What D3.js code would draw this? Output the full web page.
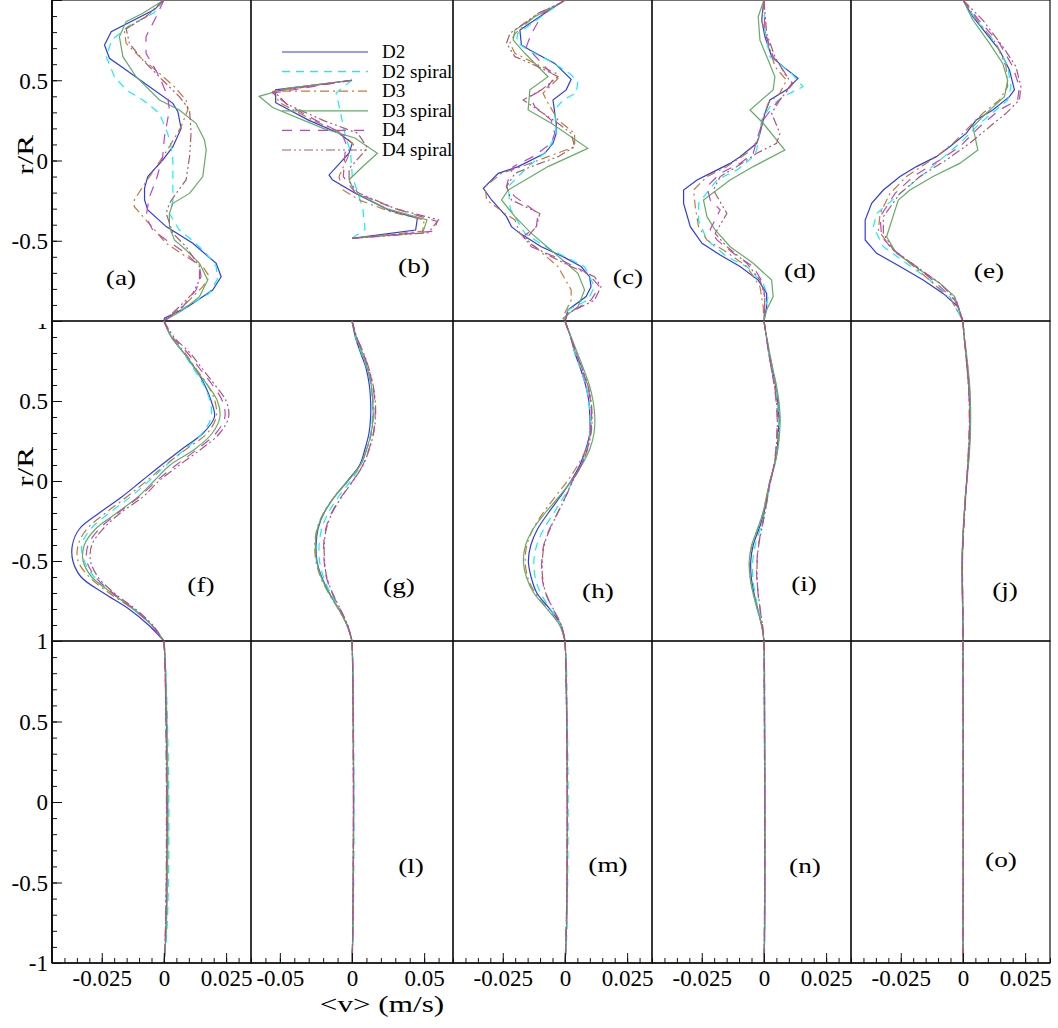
<!DOCTYPE html>
<html lang="en">
<head>
<meta charset="utf-8">
<script src="https://cdn.jsdelivr.net/npm/d3@7"></script>
<style>
  body { margin: 0; background: #fff; }
  text { fill: #000; }
  .frame { fill: none; stroke: #111; stroke-width: 1.2px; }
  .tick line { stroke: #111; stroke-width: 1px; }
  .curve { fill: none; stroke-width: 1.2px; }
</style>
</head>
<body>
<svg id="fig" width="1058" height="1028"></svg>
<script>
var seriesNames = ["D2", "D2 spiral", "D3", "D3 spiral", "D4", "D4 spiral"];
var seriesColors = ["#2f3ce6", "#10f0f8", "#c47a36", "#62ad62", "#c044c4", "#ac5a6e"];
var seriesDash = [null, "8,6", "9,4,2,4", null, "10,8", "9,3,2,3,2,3"];

var xDomainNarrow = [-0.045, 0.035];
var xDomainWide = [-0.07, 0.07];
var xTicksNarrow = [-0.025, 0, 0.025];
var xTicksWide = [-0.05, 0, 0.05];
var xTickLabelsNarrow = ["-0.025", "0", "0.025"];
var xTickLabelsWide = ["-0.05", "0", "0.05"];
var yTicks = [1, 0.5, 0, -0.5, -1];
var yTickLabelsRow = [[0.5, 0, -0.5], [1, 0.5, 0, -0.5], [1, 0.5, 0, -0.5, -1]];

// r/R grids used by the smooth rows
var rGrid = [1, 0.9, 0.8, 0.7, 0.6, 0.5, 0.4, 0.3, 0.2, 0.1, 0, -0.1, -0.2, -0.3, -0.4, -0.5, -0.6, -0.7, -0.8, -0.9, -1];
var rWall = [1, 0.95, 0.8, 0.5, 0, -0.5, -0.8, -0.95, -1];

// row 1: [r/R, <v>] pairs
var a_D2 = [[1,0],[0.94,-0.0038],[0.803,-0.0212],[0.72,-0.0239],[0.637,-0.0219],[0.564,-0.0152],[0.46,-0.0058],[0.356,0.0036],[0.304,0.0056],[0.2,0.0069],[0.086,0.0036],[0.003,-0.0005],[-0.1,-0.0065],[-0.173,-0.0078],[-0.246,-0.0078],[-0.308,-0.0065],[-0.412,0.0009],[-0.516,0.0116],[-0.641,0.021],[-0.724,0.023],[-0.807,0.0196],[-0.911,0.0096],[-0.983,0.0002],[-1,0]];
var a_D2s = [[1,0],[0.92,-0.004],[0.84,-0.014],[0.75,-0.021],[0.647,-0.0232],[0.522,-0.0199],[0.44,-0.0152],[0.377,-0.0085],[0.294,-0.0018],[0.169,0.0015],[0.086,0.0029],[0,0.0036],[-0.25,0.0036],[-0.33,0.0022],[-0.433,0.0062],[-0.5,0.0116],[-0.58,0.017],[-0.66,0.021],[-0.74,0.0215],[-0.83,0.018],[-0.91,0.0089],[-1,0]];
var a_D3 = [[1,0],[0.896,-0.0072],[0.813,-0.0159],[0.73,-0.0152],[0.647,-0.0098],[0.543,-0.0018],[0.46,0.0042],[0.377,0.0089],[0.315,0.0096],[0.211,0.0069],[0.086,0.0022],[-0.038,-0.0031],[-0.163,-0.0085],[-0.246,-0.0119],[-0.288,-0.0119],[-0.371,-0.0072],[-0.516,0.0009],[-0.599,0.0089],[-0.661,0.0156],[-0.724,0.0183],[-0.786,0.0156],[-0.89,0.0089],[-1,0]];
var a_D3s = [[1,0],[0.917,-0.0085],[0.865,-0.0152],[0.772,-0.0179],[0.647,-0.0165],[0.522,-0.0112],[0.377,-0.0018],[0.315,0.0062],[0.232,0.0129],[0.128,0.0163],[0.065,0.017],[-0.1,0.0156],[-0.205,0.0103],[-0.267,0.0036],[-0.329,0.0022],[-0.412,0.0022],[-0.495,0.0042],[-0.558,0.0089],[-0.641,0.0143],[-0.745,0.0176],[-0.848,0.0143],[-0.931,0.0076],[-1,0]];
var a_D4 = [[1,0],[0.896,-0.0031],[0.772,-0.0072],[0.668,-0.0072],[0.522,-0.0018],[0.398,0.0015],[0.315,0.0022],[0.148,0.0002],[0.024,-0.0005],[-0.121,-0.0031],[-0.225,-0.0058],[-0.35,-0.0072],[-0.433,-0.0045],[-0.495,0.0009],[-0.578,0.0089],[-0.661,0.0143],[-0.724,0.0149],[-0.807,0.0129],[-0.911,0.0076],[-1,0]];
var a_D4s = [[1,0],[0.896,-0.0072],[0.823,-0.0152],[0.73,-0.0139],[0.626,-0.0085],[0.5,-0.0005],[0.398,0.0062],[0.315,0.0103],[0.169,0.0109],[0.024,0.0103],[-0.121,0.0089],[-0.205,0.0049],[-0.267,0.0022],[-0.329,0.0009],[-0.454,0.0036],[-0.537,0.0089],[-0.661,0.0143],[-0.745,0.0143],[-0.828,0.0116],[-0.911,0.0062],[-1,0]];

var b_D2 = [[0.5,0],[0.44,-0.0529],[0.36,-0.0529],[0.25,-0.0298],[0.17,-0.009],[0.107,0.0002],[0.045,-0.0021],[-0.09,-0.0159],[-0.12,-0.0136],[-0.205,0.0025],[-0.31,0.0256],[-0.36,0.0453],[-0.433,0.0441],[-0.485,0]];
var b_D2s = [[0.5,0],[0.45,-0.0072],[0.42,-0.011],[0.3,-0.008],[0.17,-0.005],[0.05,-0.001],[-0.1,0.0002],[-0.2,0.004],[-0.3,0.0075],[-0.38,0.0085],[-0.43,0.009],[-0.485,0]];
var b_D3 = [[0.5,0],[0.43,-0.055],[0.36,-0.05],[0.25,-0.027],[0.17,-0.007],[0.1,0.001],[0.04,-0.002],[-0.1,-0.009],[-0.18,-0.007],[-0.25,0.006],[-0.32,0.027],[-0.37,0.05],[-0.44,0.049],[-0.485,0]];
var b_D3s = [[0.5,0],[0.45,-0.045],[0.4,-0.0644],[0.33,-0.055],[0.2,-0.02],[0.14,0.002],[0.045,0.0176],[-0.05,0.006],[-0.12,-0.002],[-0.2,0.002],[-0.3,0.024],[-0.37,0.052],[-0.45,0.049],[-0.485,0]];
var b_D4 = [[0.5,0],[0.42,-0.055],[0.35,-0.045],[0.25,-0.025],[0.17,-0.007],[0.1,-0.004],[0.03,-0.005],[-0.1,-0.006],[-0.2,0.002],[-0.3,0.03],[-0.38,0.059],[-0.44,0.057],[-0.485,0]];
var b_D4s = [[0.5,0],[0.43,-0.054],[0.35,-0.045],[0.25,-0.02],[0.17,0.004],[0.08,0.0106],[0.04,0.007],[-0.05,-0.002],[-0.13,-0.002],[-0.2,0.004],[-0.3,0.03],[-0.37,0.06],[-0.45,0.053],[-0.485,0]];

var c_D2 = [[1,0],[0.98,-0.002],[0.917,-0.0081],[0.813,-0.0181],[0.72,-0.0175],[0.688,-0.0141],[0.605,-0.0041],[0.506,0.0025],[0.44,0.0005],[0.377,-0.0048],[0.23,-0.0035],[0.169,-0.0035],[0.107,-0.0048],[0.045,-0.0081],[-0.038,-0.0188],[-0.08,-0.0268],[-0.173,-0.0328],[-0.246,-0.0295],[-0.35,-0.0235],[-0.412,-0.0215],[-0.454,-0.0181],[-0.537,-0.0095],[-0.599,-0.0008],[-0.661,0.0065],[-0.724,0.0099],[-0.786,0.0105],[-0.848,0.0085],[-0.931,0.0012],[-1,0]];
var c_D2s = [[1,0],[0.98,-0.002],[0.79,-0.019],[0.74,-0.0195],[0.69,-0.015],[0.616,-0.0055],[0.543,0.0019],[0.49,0.0052],[0.42,0.0045],[0.377,-0.0008],[0.315,-0.0041],[0.169,-0.0035],[0.065,-0.0068],[-0.038,-0.0148],[-0.12,-0.0201],[-0.163,-0.0228],[-0.3,-0.022],[-0.454,-0.0161],[-0.547,-0.0068],[-0.661,0.0079],[-0.786,0.0119],[-0.87,0.0092],[-0.931,0.0012],[-1,0]];
var c_D3 = [[1,0],[0.98,-0.002],[0.917,-0.0108],[0.79,-0.0201],[0.73,-0.0221],[0.668,-0.0201],[0.605,-0.0121],[0.543,-0.0035],[0.51,-0.0028],[0.42,-0.0088],[0.377,-0.0075],[0.252,-0.0028],[0.169,0.0039],[0.086,0.0039],[0.024,-0.0068],[-0.038,-0.0175],[-0.08,-0.0255],[-0.163,-0.0321],[-0.246,-0.0315],[-0.33,-0.0241],[-0.37,-0.0201],[-0.454,-0.0181],[-0.537,-0.0121],[-0.661,-0.0028],[-0.807,0.0025],[-0.87,0.0025],[-0.952,-0.0001],[-1,0]];
var c_D3s = [[1,0],[0.98,-0.002],[0.896,-0.0121],[0.813,-0.0201],[0.75,-0.0208],[0.668,-0.0161],[0.522,-0.0068],[0.44,-0.0141],[0.315,-0.0148],[0.232,-0.0055],[0.076,0.0092],[-0.038,-0.0068],[-0.184,-0.0228],[-0.246,-0.0255],[-0.35,-0.0201],[-0.454,-0.0135],[-0.578,-0.0041],[-0.703,0.0052],[-0.807,0.0079],[-0.911,0.0052],[-0.983,-0.0008],[-1,0]];
var c_D4 = [[1,0],[0.98,-0.002],[0.917,-0.0088],[0.79,-0.0135],[0.71,-0.0155],[0.564,-0.0068],[0.522,-0.0041],[0.46,-0.0068],[0.398,-0.0141],[0.335,-0.0121],[0.252,-0.0055],[0.169,-0.0041],[0.107,-0.0055],[0.024,-0.0128],[-0.038,-0.0208],[-0.121,-0.0228],[-0.163,-0.0235],[-0.225,-0.0201],[-0.33,-0.0108],[-0.412,-0.0115],[-0.475,-0.0168],[-0.537,-0.0135],[-0.6,-0.0041],[-0.703,0.0092],[-0.786,0.0139],[-0.87,0.0105],[-0.952,0.0012],[-1,0]];
var c_D4s = [[1,0],[0.98,-0.002],[0.917,-0.0108],[0.792,-0.0221],[0.73,-0.0235],[0.647,-0.0201],[0.585,-0.0108],[0.522,-0.0028],[0.44,-0.0095],[0.377,-0.0168],[0.315,-0.0108],[0.232,-0.0028],[0.169,0.0025],[0.086,0.0039],[0.024,-0.0028],[-0.038,-0.0135],[-0.08,-0.0201],[-0.163,-0.0235],[-0.246,-0.0215],[-0.33,-0.0101],[-0.412,-0.0115],[-0.495,-0.0161],[-0.578,-0.0081],[-0.661,0.0025],[-0.724,0.0119],[-0.786,0.0145],[-0.87,0.0119],[-0.952,0.0012],[-1,0]];

var d_D2 = [[1,0],[0.875,-0.0009],[0.772,0.0004],[0.647,0.0031],[0.585,0.0077],[0.512,0.0137],[0.44,0.0091],[0.377,0.0024],[0.294,0.0004],[0.169,-0.0016],[0.107,-0.0029],[0.024,-0.0096],[-0.018,-0.0136],[-0.08,-0.0216],[-0.121,-0.0269],[-0.184,-0.0323],[-0.267,-0.0323],[-0.412,-0.0296],[-0.516,-0.0249],[-0.589,-0.0176],[-0.661,-0.0096],[-0.745,-0.0023],[-0.828,0.0011],[-0.911,0.0011],[-1,0]];
var d_D2s = [[1,0],[0.8,0.0004],[0.647,0.0024],[0.543,0.0111],[0.46,0.0157],[0.398,0.0077],[0.335,0.0024],[0.252,-0.0009],[0.065,-0.0029],[0.024,-0.0043],[-0.06,-0.0109],[-0.121,-0.0189],[-0.267,-0.0263],[-0.371,-0.0263],[-0.495,-0.0229],[-0.6,-0.0149],[-0.661,-0.0069],[-0.766,-0.0003],[-0.848,0.0017],[-0.93,0.0004],[-1,0]];
var d_D3 = [[1,0],[0.875,-0.0009],[0.77,0.0011],[0.585,0.0044],[0.5,0.0091],[0.42,0.0064],[0.356,0.0017],[0.273,-0.0003],[0.128,-0.0023],[0.045,-0.0069],[-0.038,-0.0149],[-0.1,-0.0229],[-0.184,-0.0283],[-0.288,-0.0276],[-0.412,-0.0263],[-0.495,-0.0229],[-0.578,-0.0143],[-0.661,-0.0069],[-0.786,-0.0016],[-0.911,-0.0003],[-1,0]];
var d_D3s = [[1,0],[0.896,-0.0023],[0.75,-0.0016],[0.626,0.0017],[0.522,0.0044],[0.44,0.0037],[0.315,-0.0056],[0.232,-0.0003],[0.065,0.0084],[-0.038,-0.0043],[-0.121,-0.0136],[-0.246,-0.0243],[-0.35,-0.0229],[-0.433,-0.0196],[-0.537,-0.0136],[-0.64,-0.0043],[-0.745,0.0031],[-0.848,0.0037],[-0.931,0.0011],[-1,0]];
var d_D4 = [[1,0],[0.8,0.0004],[0.647,0.0037],[0.564,0.0077],[0.48,0.0111],[0.4,0.0077],[0.335,0.0037],[0.252,-0.0003],[0.128,-0.0029],[0.045,-0.0043],[-0.018,-0.0096],[-0.08,-0.0176],[-0.163,-0.0229],[-0.246,-0.0216],[-0.308,-0.0176],[-0.43,-0.0216],[-0.495,-0.0189],[-0.578,-0.0123],[-0.661,-0.0043],[-0.766,-0.0003],[-0.87,0.0004],[-1,0]];
var d_D4s = [[1,0],[0.79,0.0011],[0.647,0.0044],[0.522,0.0091],[0.48,0.0117],[0.377,0.0064],[0.294,0.0031],[0.169,0.0064],[0.107,0.0051],[0.045,-0.0029],[-0.038,-0.0109],[-0.1,-0.0176],[-0.184,-0.0203],[-0.33,-0.0149],[-0.454,-0.0196],[-0.537,-0.0149],[-0.64,-0.0069],[-0.745,-0.0016],[-0.848,0.0004],[-1,0]];

var e_D2 = [[1,0],[0.896,0.004],[0.792,0.0093],[0.688,0.0147],[0.564,0.0187],[0.44,0.0207],[0.398,0.0187],[0.315,0.012],[0.252,0.0053],[0.169,0.0013],[0.086,-0.0053],[0.024,-0.0107],[-0.038,-0.0187],[-0.1,-0.0253],[-0.184,-0.032],[-0.267,-0.0367],[-0.371,-0.0393],[-0.495,-0.0393],[-0.578,-0.0347],[-0.661,-0.0253],[-0.745,-0.016],[-0.828,-0.008],[-0.911,-0.002],[-1,0]];
var e_D2s = [[1,0],[0.875,0.0053],[0.73,0.0133],[0.585,0.018],[0.46,0.0193],[0.377,0.018],[0.315,0.0133],[0.23,0.0067],[0.107,-0.0013],[-0.018,-0.0107],[-0.121,-0.0187],[-0.225,-0.0267],[-0.33,-0.0347],[-0.412,-0.036],[-0.537,-0.032],[-0.64,-0.0227],[-0.745,-0.0133],[-0.848,-0.0053],[-1,0]];
var e_D3 = [[1,0],[0.855,0.0067],[0.73,0.0133],[0.585,0.0173],[0.46,0.018],[0.377,0.0147],[0.294,0.008],[0.19,0.0013],[0.107,-0.004],[0.024,-0.0107],[-0.1,-0.0227],[-0.205,-0.0293],[-0.33,-0.0333],[-0.433,-0.034],[-0.537,-0.0293],[-0.64,-0.0213],[-0.765,-0.012],[-0.87,-0.0047],[-1,0]];
var e_D3s = [[1,0],[0.875,0.004],[0.73,0.0107],[0.605,0.016],[0.5,0.018],[0.398,0.0167],[0.294,0.0093],[0.21,0.004],[0.065,0.006],[-0.018,-0.0013],[-0.1,-0.012],[-0.184,-0.0213],[-0.246,-0.026],[-0.475,-0.0307],[-0.578,-0.0267],[-0.682,-0.0173],[-0.765,-0.0093],[-0.848,-0.0033],[-1,0]];
var e_D4 = [[1,0],[0.875,0.0064],[0.73,0.0147],[0.585,0.02],[0.46,0.0227],[0.377,0.022],[0.315,0.0147],[0.21,0.0067],[0.086,-0.0013],[0.003,-0.0093],[-0.1,-0.02],[-0.205,-0.0273],[-0.35,-0.0333],[-0.475,-0.0327],[-0.558,-0.028],[-0.661,-0.0187],[-0.765,-0.0107],[-0.87,-0.0033],[-1,0]];
var e_D4s = [[1,0],[0.875,0.008],[0.71,0.016],[0.585,0.0213],[0.46,0.0233],[0.377,0.0227],[0.294,0.0173],[0.21,0.0107],[0.107,0.0027],[0.003,-0.0067],[-0.1,-0.0173],[-0.205,-0.0253],[-0.35,-0.032],[-0.454,-0.032],[-0.558,-0.028],[-0.661,-0.0187],[-0.765,-0.0093],[-0.87,-0.0027],[-1,0]];

// row 2: <v> on rGrid
var f_D2 = [0,0.003,0.008,0.0127,0.0164,0.019,0.0203,0.0158,0.0073,-0.001,-0.009,-0.017,-0.026,-0.034,-0.0368,-0.0366,-0.0333,-0.0243,-0.0141,-0.0062,0];
var f_D2s = [0,0.003,0.0078,0.012,0.016,0.0185,0.019,0.0155,0.0085,0.001,-0.006,-0.0135,-0.022,-0.0295,-0.033,-0.032,-0.028,-0.021,-0.012,-0.005,0];
var f_D3 = [0,0.003,0.0085,0.013,0.0175,0.0205,0.021,0.0175,0.009,0.0005,-0.007,-0.015,-0.0235,-0.031,-0.0345,-0.0345,-0.03,-0.022,-0.0125,-0.005,0];
var f_D3s = [0,0.003,0.008,0.0125,0.0175,0.0215,0.0225,0.0195,0.0125,0.0025,-0.004,-0.0105,-0.019,-0.0275,-0.032,-0.0325,-0.029,-0.021,-0.0125,-0.005,0];
var f_D4 = [0,0.0035,0.0095,0.0145,0.0195,0.0235,0.0245,0.021,0.0135,0.0049,-0.003,-0.01,-0.0185,-0.026,-0.0305,-0.031,-0.0275,-0.0205,-0.012,-0.005,0];
var f_D4s = [0,0.004,0.0105,0.0155,0.0205,0.025,0.026,0.0225,0.015,0.0062,-0.002,-0.0085,-0.0175,-0.0245,-0.029,-0.0295,-0.0265,-0.02,-0.0115,-0.0045,0];

var g_D2 = [0,0.0023,0.006,0.0099,0.012,0.0129,0.0129,0.0118,0.009,0.0053,-0.0032,-0.0122,-0.0194,-0.0236,-0.0249,-0.0243,-0.021,-0.0157,-0.0092,-0.0035,0];
var g_D2s = [0,0.0025,0.0065,0.0105,0.013,0.014,0.0141,0.013,0.0102,0.0062,-0.001,-0.0095,-0.0165,-0.021,-0.0228,-0.0225,-0.0198,-0.015,-0.0088,-0.0033,0];
var g_D3 = [0,0.003,0.0072,0.011,0.0135,0.0146,0.0148,0.0135,0.0103,0.0058,-0.003,-0.0125,-0.0198,-0.0243,-0.0258,-0.025,-0.0218,-0.0163,-0.0095,-0.0035,0];
var g_D3s = [0,0.003,0.007,0.0108,0.0133,0.0144,0.0146,0.0133,0.0102,0.0058,-0.0028,-0.0122,-0.0195,-0.024,-0.0254,-0.0246,-0.0214,-0.016,-0.0093,-0.0035,0];
var g_D4 = [0,0.0032,0.0078,0.0116,0.0143,0.0158,0.016,0.0148,0.0118,0.0075,0.0005,-0.0075,-0.0142,-0.0182,-0.0196,-0.0193,-0.0178,-0.0138,-0.0083,-0.003,0];
var g_D4s = [0,0.0033,0.008,0.0118,0.0146,0.0161,0.0163,0.015,0.012,0.0077,0.0007,-0.0072,-0.0138,-0.0178,-0.0192,-0.019,-0.0175,-0.0135,-0.0081,-0.003,0];

var h_D2 = [0,0.0023,0.004,0.0063,0.0083,0.0096,0.01,0.01,0.0084,0.006,0.0024,-0.002,-0.0067,-0.011,-0.0137,-0.0147,-0.0136,-0.0113,-0.0061,-0.0016,0];
var h_D2s = [0,0.0023,0.004,0.0063,0.0083,0.0096,0.0101,0.01,0.0088,0.0065,0.0032,-0.0005,-0.0045,-0.0085,-0.0113,-0.0125,-0.012,-0.0098,-0.0058,-0.0016,0];
var h_D3 = [0,0.0023,0.0045,0.0068,0.009,0.0103,0.0107,0.0103,0.0085,0.0052,0.001,-0.004,-0.0088,-0.0128,-0.0153,-0.016,-0.015,-0.012,-0.007,-0.002,0];
var h_D3s = [0,0.0025,0.005,0.0075,0.0098,0.0113,0.012,0.0117,0.01,0.0068,0.0025,-0.0025,-0.008,-0.0128,-0.0158,-0.0167,-0.0155,-0.0125,-0.0072,-0.0022,0];
var h_D4 = [0,0.0022,0.0045,0.0068,0.009,0.0103,0.0107,0.0103,0.009,0.0065,0.003,0.0002,-0.003,-0.0062,-0.0085,-0.0093,-0.0092,-0.0078,-0.0048,-0.0015,0];
var h_D4s = [0,0.0023,0.0046,0.007,0.0092,0.0105,0.0109,0.0105,0.0091,0.0066,0.0031,0.0003,-0.0029,-0.006,-0.0083,-0.0091,-0.009,-0.0077,-0.0047,-0.0015,0];

var i_D2 = [0,0.001,0.002,0.0033,0.0046,0.0055,0.006,0.0058,0.0053,0.0042,0.0024,0.0012,0,-0.002,-0.0043,-0.0053,-0.0051,-0.004,-0.0025,-0.0009,0];
var i_D2s = [0,0.001,0.002,0.0032,0.0045,0.0054,0.0059,0.0058,0.0053,0.0043,0.0027,0.0015,0.0003,-0.0015,-0.0035,-0.0045,-0.0045,-0.0036,-0.0023,-0.0008,0];
var i_D3 = [0,0.0011,0.0022,0.0035,0.0048,0.0058,0.0063,0.0061,0.0055,0.0043,0.0025,0.001,-0.0004,-0.0025,-0.0048,-0.0058,-0.0055,-0.0043,-0.0027,-0.001,0];
var i_D3s = [0,0.0011,0.0023,0.0036,0.005,0.006,0.0065,0.0063,0.0056,0.0043,0.0025,0.001,-0.0004,-0.0026,-0.0049,-0.0059,-0.0056,-0.0044,-0.0027,-0.001,0];
var i_D4 = [0,0.001,0.0019,0.003,0.0041,0.0049,0.0053,0.0052,0.0048,0.004,0.0026,0.0014,0.0003,-0.001,-0.0022,-0.0028,-0.0029,-0.0024,-0.0016,-0.0006,0];
var i_D4s = [0,0.001,0.0019,0.003,0.0042,0.005,0.0054,0.0053,0.0049,0.0041,0.0027,0.0015,0.0004,-0.0009,-0.0021,-0.0027,-0.0028,-0.0023,-0.0015,-0.0006,0];

var j_D2 = [0,0.0005,0.0012,0.0018,0.0024,0.0027,0.0028,0.0027,0.0024,0.002,0.0015,0.001,0.0006,0.0002,-0.0001,-0.0003,-0.0003,-0.0002,-0.0001,0,0];
var j_D2s = [0,0.0005,0.0012,0.0019,0.0025,0.0028,0.0029,0.0028,0.0025,0.0021,0.0016,0.0011,0.0007,0.0003,0,-0.0002,-0.0002,-0.0001,0,0,0];
var j_D3 = [0,0.0005,0.0013,0.002,0.0026,0.0029,0.003,0.0029,0.0026,0.0021,0.0015,0.0009,0.0005,0.0001,-0.0002,-0.0004,-0.0004,-0.0003,-0.0001,0,0];
var j_D3s = [0,0.0006,0.0014,0.0021,0.0027,0.003,0.0031,0.003,0.0027,0.0022,0.0016,0.001,0.0005,0.0001,-0.0002,-0.0004,-0.0004,-0.0003,-0.0001,0,0];
var j_D4 = [0,0.0005,0.0011,0.0017,0.0022,0.0025,0.0026,0.0025,0.0022,0.0019,0.0015,0.0011,0.0007,0.0003,0,-0.0002,-0.0002,-0.0001,0,0,0];
var j_D4s = [0,0.0005,0.0011,0.0017,0.0022,0.0025,0.0026,0.0025,0.0023,0.0019,0.0015,0.0011,0.0007,0.0003,0,-0.0002,-0.0002,-0.0001,0,0,0];

// row 3: <v> on rWall
var k_D2 = [0,0.0002,0.0006,0.001,0.0014,0.0012,0.0008,0.0003,0];
var k_D2s = [0,0.0003,0.0008,0.0014,0.002,0.0018,0.0012,0.0004,0];
var k_D3 = [0,0.0002,0.0005,0.0009,0.0012,0.001,0.0007,0.0002,0];
var k_D3s = [0,0.0003,0.0007,0.0012,0.0016,0.0014,0.0009,0.0003,0];
var k_D4 = [0,0.0002,0.0005,0.0008,0.0011,0.001,0.0006,0.0002,0];
var k_D4s = [0,0.0002,0.0005,0.0008,0.001,0.0009,0.0006,0.0002,0];
var l_D2 = [0,0.0002,0.0006,0.0009,0.0011,0.0009,0.0006,0.0002,0];
var l_D2s = [0,0.0003,0.0008,0.0011,0.0014,0.0012,0.0008,0.0003,0];
var l_D3 = [0,0.0002,0.0005,0.0008,0.001,0.0008,0.0005,0.0002,0];
var m_D2 = [0,0.0002,0.0005,0.0008,0.001,0.0009,0.0006,0.0002,0];
var m_D2s = [0,0.0003,0.0007,0.001,0.0013,0.0011,0.0008,0.0003,0];
var m_D3 = [0,0.0002,0.0004,0.0007,0.0009,0.0008,0.0005,0.0002,0];
var n_D2 = [0,0.0001,0.0002,0.0003,0.0004,0.0004,0.0003,0.0001,0];
var n_D2s = [0,0.0001,0.0003,0.0004,0.0005,0.0005,0.0004,0.0002,0];
var n_D3 = [0,0.0001,0.0001,0.0002,0.0003,0.0003,0.0002,0.0001,0];
var o_all = [0,0,0,0.0001,0.0001,0.0001,0,0,0];

// layout
var colEdges = [52, 251, 453, 652, 851, 1050];
var rowEdges = [0, 321, 641, 963];

var panels = [
  {row: 0, col: 0, label: "(a)", lx: 69, ly: 285, pairs: [a_D2, a_D2s, a_D3, a_D3s, a_D4, a_D4s]},
  {row: 0, col: 1, label: "(b)", lx: 163, ly: 273, pairs: [b_D2, b_D2s, b_D3, b_D3s, b_D4, b_D4s]},
  {row: 0, col: 2, label: "(c)", lx: 175, ly: 284, pairs: [c_D2, c_D2s, c_D3, c_D3s, c_D4, c_D4s]},
  {row: 0, col: 3, label: "(d)", lx: 148, ly: 278, pairs: [d_D2, d_D2s, d_D3, d_D3s, d_D4, d_D4s]},
  {row: 0, col: 4, label: "(e)", lx: 138, ly: 278, pairs: [e_D2, e_D2s, e_D3, e_D3s, e_D4, e_D4s]},
  {row: 1, col: 0, label: "(f)", lx: 149, ly: 271, grid: rGrid, vals: [f_D2, f_D2s, f_D3, f_D3s, f_D4, f_D4s]},
  {row: 1, col: 1, label: "(g)", lx: 148, ly: 272, grid: rGrid, vals: [g_D2, g_D2s, g_D3, g_D3s, g_D4, g_D4s]},
  {row: 1, col: 2, label: "(h)", lx: 145, ly: 277, grid: rGrid, vals: [h_D2, h_D2s, h_D3, h_D3s, h_D4, h_D4s]},
  {row: 1, col: 3, label: "(i)", lx: 152, ly: 270, grid: rGrid, vals: [i_D2, i_D2s, i_D3, i_D3s, i_D4, i_D4s]},
  {row: 1, col: 4, label: "(j)", lx: 154, ly: 276, grid: rGrid, vals: [j_D2, j_D2s, j_D3, j_D3s, j_D4, j_D4s]},
  {row: 2, col: 0, label: "", lx: 0, ly: 0, grid: rWall, vals: [k_D2, k_D2s, k_D3, k_D3s, k_D4, k_D4s]},
  {row: 2, col: 1, label: "(l)", lx: 160, ly: 232, grid: rWall, vals: [l_D2, l_D2s, l_D3, l_D2, l_D3, l_D3]},
  {row: 2, col: 2, label: "(m)", lx: 155, ly: 231, grid: rWall, vals: [m_D2, m_D2s, m_D3, m_D2, m_D3, m_D3]},
  {row: 2, col: 3, label: "(n)", lx: 153, ly: 232, grid: rWall, vals: [n_D2, n_D2s, n_D3, n_D3, n_D3, n_D3]},
  {row: 2, col: 4, label: "(o)", lx: 150, ly: 226, grid: rWall, vals: [o_all, o_all, o_all, o_all, o_all, o_all]}
];

var svg = d3.select("#fig");
svg.append("rect").attr("width", 1058).attr("height", 1028).attr("fill", "#fff");

// the "1" of the middle row is mostly hidden behind the top row
svg.append("clipPath").attr("id", "clipRow2").append("rect")
  .attr("x", -60).attr("y", 324).attr("width", 70).attr("height", 330);

panels.forEach(function(p) {
  var x0 = colEdges[p.col], x1 = colEdges[p.col + 1];
  var y0 = rowEdges[p.row], y1 = rowEdges[p.row + 1];
  var wide = p.col === 1;
  var x = d3.scaleLinear().domain(wide ? xDomainWide : xDomainNarrow).range([x0, x1]);
  var y = d3.scaleLinear().domain([-1, 1]).range([y1, y0]);
  var g = svg.append("g");

  g.append("rect").attr("class", "frame")
    .attr("x", x0).attr("y", y0).attr("width", x1 - x0).attr("height", y1 - y0);

  var line = d3.line()
    .x(function(d) { return x(d[1]); })
    .y(function(d) { return y(d[0]); })
    .curve(p.pairs ? d3.curveLinear : d3.curveCatmullRom.alpha(0.5));

  for (var s = 0; s < seriesNames.length; s++) {
    var pts = p.pairs ? p.pairs[s] : p.grid.map(function(r, k) { return [r, p.vals[s][k]]; });
    g.append("path").attr("class", "curve")
      .attr("d", line(pts))
      .attr("stroke", seriesColors[s])
      .attr("stroke-dasharray", seriesDash[s]);
  }

  if (p.label) {
    g.append("text")
      .attr("transform", "translate(" + (x0 + p.lx) + "," + (y0 + p.ly) + ") scale(1.3,1)")
      .attr("text-anchor", "middle")
      .style("font-size", "21px")
      .text(p.label);
  }

  // left axis only on the first column
  if (p.col === 0) {
    var ya = g.append("g").attr("transform", "translate(" + x0 + ",0)");
    ya.call(d3.axisLeft(y).tickValues(d3.range(-10, 11).map(function(k) { return k / 10; }))
      .tickSizeInner(-5).tickSizeOuter(0).tickFormat(""));
    ya.select(".domain").remove();
    var yb = g.append("g").attr("transform", "translate(" + x0 + ",0)");
    if (p.row === 1) yb.attr("clip-path", "url(#clipRow2)");
    yb.call(d3.axisLeft(y).tickValues(yTicks).tickSizeInner(-10).tickSizeOuter(0).tickPadding(4)
      .tickFormat(function(v) { return yTickLabelsRow[p.row].indexOf(v) >= 0 ? String(v) : ""; }));
    yb.select(".domain").remove();
    yb.selectAll("text").style("font-size", "23px").attr("dy", "0.34em");
    g.append("line").attr("x1", x0).attr("x2", x0).attr("y1", y0).attr("y2", y1)
      .attr("stroke", "#111").attr("stroke-width", 2);
  }

  // bottom axis only on the last row
  if (p.row === 2) {
    var minor = wide ? d3.range(-7, 8).map(function(k) { return k * 0.01; })
                     : d3.range(-9, 8).map(function(k) { return k * 0.005; });
    var xa = g.append("g").attr("transform", "translate(0," + y1 + ")");
    xa.call(d3.axisBottom(x).tickValues(minor).tickSizeInner(-5).tickSizeOuter(0).tickFormat(""));
    xa.select(".domain").remove();
    var tv = wide ? xTicksWide : xTicksNarrow;
    var tl = wide ? xTickLabelsWide : xTickLabelsNarrow;
    var xb = g.append("g").attr("transform", "translate(0," + y1 + ")");
    xb.call(d3.axisBottom(x).tickValues(tv).tickSizeInner(-10).tickSizeOuter(0).tickPadding(7)
      .tickFormat(function(v, k) { return tl[k]; }));
    xb.select(".domain").remove();
    xb.selectAll("text").style("font-size", "23px");
    g.append("line").attr("x1", x0).attr("x2", x1).attr("y1", y1).attr("y2", y1)
      .attr("stroke", "#111").attr("stroke-width", 1.6);
  }
});

// axis titles
svg.append("text").attr("transform", "translate(33,155) rotate(-90) scale(1.35,1)")
  .attr("text-anchor", "middle").style("font-size", "23px").text("r/R");
svg.append("text").attr("transform", "translate(33,467) rotate(-90) scale(1.35,1)")
  .attr("text-anchor", "middle").style("font-size", "23px").text("r/R");
svg.append("text").attr("transform", "translate(382,1012) scale(1.3,1)")
  .attr("text-anchor", "middle").style("font-size", "24px").text("<v> (m/s)");

// legend in panel (b)
var leg = svg.append("g");
seriesNames.forEach(function(name, s) {
  var ly = 52 + s * 19.6;
  leg.append("line").attr("x1", 282).attr("x2", 368).attr("y1", ly).attr("y2", ly)
    .attr("stroke", seriesColors[s]).attr("stroke-width", 1.2)
    .attr("stroke-dasharray", seriesDash[s]);
  leg.append("text").attr("transform", "translate(382," + (ly + 6) + ") scale(1.06,1)")
    .style("font-size", "18px").text(name);
});

svg.selectAll("text")
  .style("font-family", "'Liberation Serif', 'Times New Roman', serif")
  .style("font-weight", "normal");
</script>
</body>
</html>
